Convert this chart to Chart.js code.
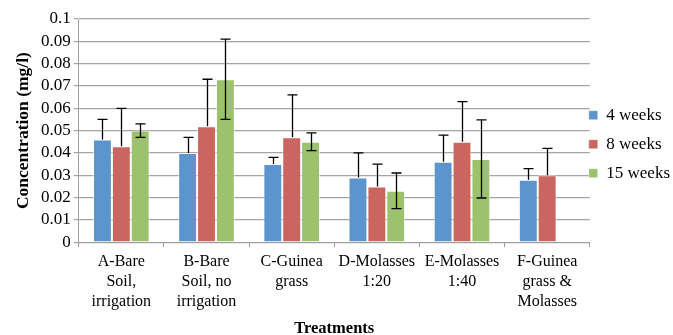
<!DOCTYPE html>
<html>
<head>
<meta charset="utf-8">
<script src="https://cdn.jsdelivr.net/npm/chart.js@4"></script>
<style>
  html, body { margin: 0; padding: 0; background: #fff; }
  #wrap { width: 673px; height: 335px; position: relative; }
</style>
</head>
<body>
<div id="wrap"><canvas id="chart"></canvas></div>
<script>
const treatments = [
  ['A-Bare', 'Soil,', 'irrigation'],
  ['B-Bare', 'Soil, no', 'irrigation'],
  ['C-Guinea', 'grass'],
  ['D-Molasses', '1:20'],
  ['E-Molasses', '1:40'],
  ['F-Guinea', 'grass &', 'Molasses']
];
const seriesNames = ['4 weeks', '8 weeks', '15 weeks'];
const weeks4 = [0.046, 0.040, 0.035, 0.029, 0.036, 0.028];
const weeks8 = [0.043, 0.052, 0.047, 0.025, 0.045, 0.030];
const weeks15 = [0.050, 0.073, 0.045, 0.023, 0.0373, null];
// error amounts; 4 and 8 weeks only show the plus side
const err4 = [0.009, 0.007, 0.003, 0.011, 0.012, 0.005];
const err8 = [0.017, 0.021, 0.019, 0.010, 0.018, 0.012];
const err15 = [0.003, 0.018, 0.004, 0.008, 0.0175, null];
const errBoth = [false, false, true];
const yTicks = [0, 0.01, 0.02, 0.03, 0.04, 0.05, 0.06, 0.07, 0.08, 0.09, 0.1];

const colors = ['#5B95CB', '#CB6560', '#9CC26E'];
const serif = '"Liberation Serif", "Times New Roman", serif';

const errorBars = {
  id: 'errorBars',
  afterLayout(chart) {
    // pull the legend in close to the plot, like the original
    const lg = chart.legend;
    const shift = lg.left - (chart.chartArea.right - 13);
    lg.left -= shift;
    lg.right -= shift;
  },
  afterDatasetsDraw(chart) {
    const ctx = chart.ctx;
    const y = chart.scales.y;
    const errs = [err4, err8, err15];
    ctx.save();
    ctx.strokeStyle = '#000';
    ctx.lineWidth = 1.3;
    chart.data.datasets.forEach((ds, i) => {
      const meta = chart.getDatasetMeta(i);
      meta.data.forEach((bar, j) => {
        const v = ds.data[j], e = errs[i][j];
        if (v == null || e == null) return;
        const x = Math.round(bar.x) + 0.5;
        const top = y.getPixelForValue(v + e);
        const bot = errBoth[i] ? y.getPixelForValue(v - e) : y.getPixelForValue(v);
        ctx.beginPath();
        ctx.moveTo(x, top); ctx.lineTo(x, bot);
        ctx.moveTo(x - 5, top); ctx.lineTo(x + 5, top);
        if (errBoth[i]) { ctx.moveTo(x - 5, bot); ctx.lineTo(x + 5, bot); }
        ctx.stroke();
      });
    });
    ctx.restore();
  }
};

new Chart(document.getElementById('chart'), {
  type: 'bar',
  data: {
    labels: treatments,
    datasets: [weeks4, weeks8, weeks15].map((d, i) => ({
      label: seriesNames[i],
      data: d,
      backgroundColor: colors[i],
      borderColor: 'rgba(255,255,255,0.6)',
      borderWidth: { left: 1, right: 1, top: 1, bottom: 0 },
      categoryPercentage: 0.665,
      barPercentage: 1
    }))
  },
  options: {
    responsive: true,
    maintainAspectRatio: false,
    animation: false,
    layout: { padding: { left: 13, right: -20, top: 19, bottom: -4 } },
    plugins: {
      legend: {
        position: 'right',
        fullSize: false,
        title: { display: true, text: '', padding: 13, font: { size: 1 } },
        labels: {
          boxWidth: 9, boxHeight: 9, padding: 12,
          color: '#000',
          font: { family: serif, size: 17 }
        }
      },
      tooltip: { enabled: false }
    },
    scales: {
      x: {
        grid: { drawOnChartArea: false, drawTicks: true, tickLength: 5, color: '#A0A0A0', offset: true },
        border: { color: '#A0A0A0' },
        ticks: { color: '#000', font: { family: serif, size: 16, lineHeight: 1.25 }, maxRotation: 0, autoSkip: false, padding: 5 },
        title: { display: true, text: 'Treatments', color: '#000', font: { family: serif, size: 16.5, weight: 'bold' }, padding: { top: 2, bottom: 0 } }
      },
      y: {
        min: 0, max: 0.1,
        afterBuildTicks: (s) => { s.ticks = yTicks.map(v => ({ value: v })); },
        grid: { color: '#A5A5A5', lineWidth: 1.2, drawTicks: true, tickLength: 5 },
        border: { color: '#A0A0A0' },
        ticks: {
          color: '#000', font: { family: serif, size: 17 }, padding: 3, autoSkip: false,
          callback: (v) => String(parseFloat(v.toFixed(2)))
        },
        title: { display: true, text: 'Concentration (mg/l)', color: '#000', font: { family: serif, size: 17.5, weight: 'bold' }, padding: { top: 0, bottom: 4 } }
      }
    }
  },
  plugins: [errorBars]
});
</script>
</body>
</html>
